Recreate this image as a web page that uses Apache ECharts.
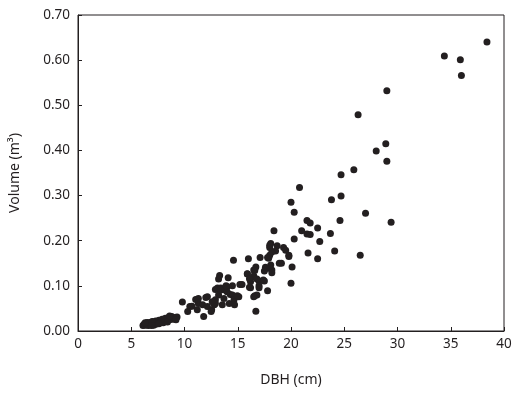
<!DOCTYPE html>
<html>
<head>
<meta charset="utf-8">
<script src="https://cdn.jsdelivr.net/npm/echarts@6/dist/echarts.min.js"></script>
<style>html,body{margin:0;padding:0;background:#fff}#c{width:522px;height:395px}</style>
</head>
<body>
<div id="c"></div>
<script>
const xTicks = [0, 5, 10, 15, 20, 25, 30, 35, 40];
const yTicks = ["0.00","0.10","0.20","0.30","0.40","0.50","0.60","0.70"];
const xName = "DBH (cm)";
const yName = "Volume (m³)";

const dbhSmall = [6.1,6.2,6.3,6.4,6.5,6.6,6.7,6.8,6.9,7.0,7.1,7.2,7.3,7.4,7.5,7.6,7.7,7.8,7.9,8.0,8.1,8.2,8.3,8.4,8.5,8.6,8.7,8.8,8.9,9.0,9.1,9.3,6.5,7.3,8.0,6.3,7.0,7.6,8.4,9.2,8.6,6.9];
const volSmall = [0.012,0.015,0.013,0.017,0.014,0.012,0.018,0.015,0.020,0.016,0.013,0.019,0.022,0.017,0.020,0.024,0.018,0.022,0.026,0.021,0.024,0.028,0.022,0.026,0.030,0.025,0.028,0.032,0.026,0.030,0.027,0.031,0.019,0.015,0.018,0.018,0.021,0.016,0.020,0.025,0.033,0.012];

const dbhMid = [9.8,10.5,10.7,11.05,11.2,11.3,11.8,12.0,11.7,12.15,12.15,12.55,12.9,12.8,12.9,12.9,13.2,13.1,13.4,13.4,13.8,14.0,14.0,14.5,14.3,14.5,14.65,15.1,13.3,13.2,14.1,13.7,13.55,14.2,14.7,13.9,11.3,10.3,12.5,12.6];
const volMid = [0.064,0.054,0.055,0.070,0.047,0.061,0.032,0.074,0.058,0.054,0.076,0.047,0.069,0.058,0.061,0.092,0.080,0.095,0.095,0.091,0.091,0.098,0.087,0.100,0.081,0.080,0.069,0.076,0.123,0.115,0.118,0.072,0.058,0.061,0.058,0.100,0.072,0.043,0.043,0.065];

const dbhUpper = [14.6,16.0,15.9,16.5,16.2,15.4,15.2,17.0,17.5,16.2,17.0,17.8,16.6,16.8,16.7,20.0,20.1,16.5,17.8,18.2,18.1,18.9,17.9,19.8,18.4,18.1,18.7,19.3,18.0,19.5,18.55,18.0,17.8,19.1,17.1,16.7,17.6,18.2,17.5,16.6,15.9,16.5,17.4,16.8,16.1,16.1,17.0,16.5,14.96,18.0,18.2];
const volUpper = [0.157,0.160,0.127,0.120,0.109,0.103,0.103,0.111,0.111,0.096,0.100,0.089,0.078,0.080,0.044,0.106,0.142,0.135,0.139,0.135,0.146,0.150,0.161,0.165,0.222,0.194,0.189,0.185,0.185,0.179,0.177,0.168,0.163,0.150,0.163,0.142,0.141,0.129,0.133,0.134,0.126,0.122,0.113,0.115,0.116,0.097,0.096,0.076,0.078,0.190,0.175];

const dbhLarge = [20.8,20.0,20.3,21.5,21.8,22.5,21.0,21.5,21.8,23.7,20.3,22.7,19.8,21.6,24.1,26.5,22.5,24.7,24.7,23.8,27.0,29.4,24.6,25.9,28.0,29.0,28.9,26.3,29.0,34.4,35.9,36.0,38.4];
const volLarge = [0.318,0.285,0.263,0.245,0.239,0.228,0.222,0.215,0.214,0.216,0.204,0.198,0.168,0.173,0.177,0.168,0.160,0.346,0.299,0.291,0.261,0.241,0.245,0.357,0.399,0.376,0.415,0.479,0.532,0.609,0.601,0.566,0.640];

const dbh = [].concat(dbhSmall, dbhMid, dbhUpper, dbhLarge);
const vol = [].concat(volSmall, volMid, volUpper, volLarge);
const points = dbh.map((d, i) => [d, vol[i]]);

const ink = '#231f20';
const font = 'Noto Sans';
const chart = echarts.init(document.getElementById('c'), null, {renderer: 'canvas'});
chart.setOption({
  animation: false,
  backgroundColor: '#fff',
  grid: {left: 77, right: 18, top: 15, bottom: 64, show: true, borderColor: ink, borderWidth: 1, backgroundColor: 'transparent'},
  xAxis: {
    type: 'value', min: 0, max: 40, interval: 5,
    name: xName, nameLocation: 'middle', nameGap: 42,
    nameTextStyle: {color: ink, fontFamily: font, fontSize: 14},
    axisLine: {show: true, lineStyle: {color: ink, width: 1}},
    axisTick: {show: true, inside: true, length: 4, lineStyle: {color: ink}},
    axisLabel: {color: ink, fontFamily: font, fontSize: 13.5, margin: 6,
      formatter: v => xTicks.includes(v) ? String(v) : ''},
    splitLine: {show: false}
  },
  yAxis: {
    type: 'value', min: 0, max: 0.7, interval: 0.1,
    name: yName, nameLocation: 'middle', nameGap: 56,
    nameTextStyle: {color: ink, fontFamily: font, fontSize: 14},
    axisLine: {show: true, lineStyle: {color: ink, width: 1}},
    axisTick: {show: true, inside: true, length: 4, lineStyle: {color: ink}},
    axisLabel: {color: ink, fontFamily: font, fontSize: 13.5, margin: 8,
      formatter: v => yTicks[Math.round(v * 10)]},
    splitLine: {show: false}
  },
  series: [{
    type: 'scatter',
    data: points,
    symbol: 'circle',
    symbolSize: 7,
    itemStyle: {color: ink, opacity: 1},
    silent: true
  }]
});
</script>
</body>
</html>
